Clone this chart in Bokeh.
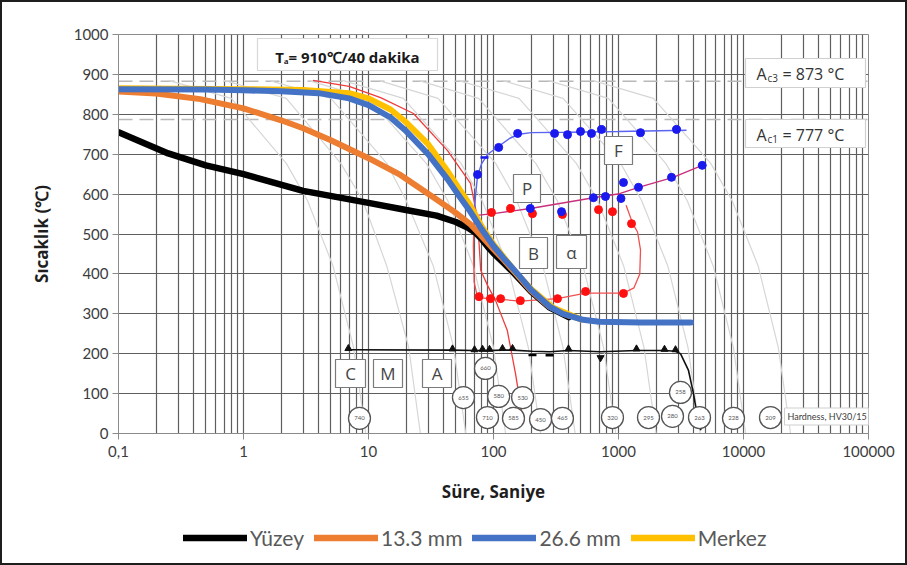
from bokeh.plotting import figure
from bokeh.layouts import column
from bokeh.models import (FixedTicker, Label, BoxAnnotation, Legend, LegendItem,
                          Span, Range1d, ColumnDataSource)
from bokeh.embed import file_html
from bokeh.resources import INLINE
from bokeh.core.properties import value

# ---------------- data ----------------
x_ticks = [0.1, 1, 10, 100, 1000, 10000, 100000]
x_tick_labels = ["0,1", "1", "10", "100", "1000", "10000", "100000"]
y_ticks = [0, 100, 200, 300, 400, 500, 600, 700, 800, 900, 1000]

series_names = ["Yüzey", "13.3 mm", "26.6 mm", "Merkez"]
series_colors = ["#000000", "#ed7d31", "#4472c4", "#ffc000"]

# cooling curves (time s, temperature C)
yuzey_t = [0.1, 0.25, 0.5, 1, 3, 10, 20, 35, 50, 62, 72, 80, 90, 100, 120, 150, 200, 280, 400]
yuzey_T = [755, 702, 672, 650, 608, 578, 560, 546, 530, 516, 503, 488, 468, 452, 428, 398, 356, 316, 292]

mm13_t = [0.1, 0.2, 0.45, 1, 2, 3, 5, 10, 18, 33, 50, 65, 80, 100, 120, 150, 200, 280, 400]
mm13_T = [857, 852, 838, 815, 785, 765, 735, 690, 648, 592, 553, 525, 495, 462, 436, 402, 358, 318, 295]

mm26_t = [0.1, 0.5, 1, 2, 4, 7, 10, 15, 20, 30, 43, 54, 65, 80, 100, 120, 156, 200, 284, 360, 520, 700, 1500, 3800]
mm26_T = [863, 862, 860, 858, 853, 840, 823, 792, 758, 700, 637, 592, 557, 513, 470, 440, 400, 360, 317, 300, 285, 280, 278, 278]

merkez_t = [0.1, 1, 3, 7, 10, 15, 20, 30, 43, 54, 65, 80, 100, 150, 200, 300, 500]
merkez_T = [865, 863, 861, 853, 840, 812, 780, 725, 657, 610, 572, 520, 474, 405, 362, 315, 286]

# original CCT overlay
red_cc_t = [3.6, 7, 12.5, 22.9, 42.9, 65.5, 74.5, 79, 90, 104, 129, 150, 174]
red_cc_T = [885, 870, 842, 802, 709, 627, 540, 409, 370, 333, 258, 150, 25]

ferrite_t = [70, 72, 74.5, 80, 90, 110, 135, 160, 200, 400, 1000, 3500]
ferrite_T = [548, 600, 645, 675, 700, 720, 740, 750, 754, 755, 757, 760]

pearlite_t = [70, 100, 197, 630, 1020, 1445, 2736, 4677]
pearlite_T = [546, 551, 564, 591, 601, 617, 642, 672]

bainite_t = [70, 69, 70, 74, 78, 95, 114, 164, 325, 545, 1096, 1330, 1480, 1500, 1420, 1300, 1150]
bainite_T = [546, 470, 380, 345, 340, 338, 336, 332, 338, 352, 352, 365, 400, 460, 505, 526, 572]

ms_t = [6.9, 47, 70, 82, 93, 118, 142, 205, 281, 398, 718, 1393, 2333, 2858, 3133, 3631, 3981, 4285, 4560]
ms_T = [210, 209, 208, 208, 208, 209, 209, 206, 205, 208, 205, 208, 208, 206, 200, 158, 100, 40, 8]

ferrite_dot_t = [74.5, 110, 156, 308, 391, 497, 608, 731, 1500, 2911]
ferrite_dot_T = [649, 717, 752, 752, 749, 757, 752, 762, 754, 762]

pearl_blue_t = [197, 350, 630, 787, 1096, 1047, 1445, 2655, 4677]
pearl_blue_T = [564, 556, 591, 594, 629, 589, 617, 642, 672]

pearl_red_t = [96.4, 137, 205, 356, 692, 895, 1271]
pearl_red_T = [554, 564, 551, 549, 561, 556, 526]

bain_red_t = [76.6, 94.6, 114, 164, 325, 545, 1096]
bain_red_T = [343, 338, 338, 333, 338, 356, 351]

tri_t = [6.9, 47, 70.5, 81.7, 92.9, 118, 142, 398, 1393, 2333, 2858]
tri_T = [213, 212, 210, 211, 211, 213, 213, 212, 212, 211, 210]
dash_t = [84.7, 205, 281]
dash_T = [692, 197, 196]
dash_col = ["#1a1aee", "black", "black"]
tridown_t = [718]
tridown_T = [190]

hv_t = [8.47, 57.5, 86.3, 89.5, 110, 144.5, 171, 238, 356, 895, 1738, 2704, 3133, 4446, 8318, 16444]
hv_T = [38, 90, 163, 40, 93, 38, 90, 35, 38, 40, 40, 43, 103, 40, 38, 40]
hv_lbl = ["740", "655", "660", "710", "580", "585", "530", "450", "465", "320", "295", "280", "258", "263", "228", "209"]

# faint background cooling curves of the original diagram
gray_T = [885, 840, 677, 584, 420, 215, 0]
gray_t = [
    [0.25, 0.8, 2.2, 3.25, 5.2, 7.6, 9.5],
    [0.7, 2.2, 6, 9, 14, 21, 26],
    [1.6, 5, 14, 20, 33, 48, 60],
    [3.3, 10, 29, 43, 69, 100, 125],
    [6.2, 19, 55, 81, 130, 190, 238],
    [12, 36, 104, 153, 248, 360, 450],
    [25, 76, 218, 323, 520, 760, 950],
    [52, 160, 460, 680, 1100, 1600, 2000],
    [117, 360, 1040, 1530, 2480, 3600, 4500],
    [270, 830, 2390, 3540, 5720, 8300, 10400],
    [620, 1900, 5470, 8090, 13100, 19000, 23800],
]

ac3_T = 883
ac1_T = 787

# ---------------- layout helpers (page pixel -> data) ----------------
FL, FT, DEC, PXT = 118, 433, 125, 0.399


def tx(px):
    return 10 ** ((px - FL) / DEC - 1)


def ty(py):
    return (FT - py) / PXT


p = figure(width=903, height=509, x_axis_type="log",
           x_range=Range1d(0.1, 100000), y_range=Range1d(0, 1000),
           output_backend="svg", toolbar_location=None,
           min_border_left=116, min_border_right=37, min_border_top=32, min_border_bottom=78,
           background_fill_color="white", border_fill_color="white")
p.outline_line_color = "#8a8a8a"

minor = []
for d in [0.1, 1, 10, 100, 1000, 10000]:
    for k in range(2, 10):
        minor.append(d * k)
p.xaxis.ticker = FixedTicker(ticks=x_ticks, minor_ticks=minor)
p.xaxis.major_label_overrides = {t: l for t, l in zip(x_ticks, x_tick_labels)}
p.yaxis.ticker = FixedTicker(ticks=y_ticks)

for ax in (p.xaxis, p.yaxis):
    ax.axis_line_color = "#8a8a8a"
    ax.major_tick_line_color = "#8a8a8a"
    ax.major_tick_out = 6
    ax.major_tick_in = 0
    ax.minor_tick_out = 0
    ax.minor_tick_in = 0
    ax.major_label_text_font = "Lato"
    ax.major_label_text_font_size = "15px"
    ax.major_label_text_color = "#3c3c3c"
    ax.axis_label_text_font = "Open Sans"
    ax.axis_label_text_font_style = "bold"
    ax.axis_label_text_font_size = "17px"
    ax.axis_label_text_color = "#1e1e1e"

p.xaxis.axis_label = "Süre, Saniye"
p.yaxis.axis_label = "Sıcaklık (℃)"
p.xaxis.major_label_standoff = 6
p.xaxis.axis_label_standoff = 20
p.yaxis.major_label_standoff = 4
p.yaxis.axis_label_standoff = 18

gc = "#5e5e5e"
p.xgrid.grid_line_color = gc
p.xgrid.minor_grid_line_color = gc
p.xgrid.grid_line_width = 1.2
p.xgrid.minor_grid_line_width = 1.2
p.ygrid.grid_line_color = gc
p.ygrid.grid_line_width = 1.2

# background curves
for gt in gray_t:
    p.line(gt, gray_T, line_color="#d6d6d6", line_width=1.2)

# Ac reference dashed lines of the original diagram
for lv in (ac3_T, ac1_T):
    p.add_layout(Span(location=lv, dimension="width", line_color="#b8b8b8",
                      line_width=1.6, line_dash="14 7", level="underlay"))

# thin CCT overlay curves
p.line(red_cc_t, red_cc_T, line_color="#f03c3c", line_width=1.3)
p.line(ferrite_t, ferrite_T, line_color="#5a64f0", line_width=1.4)
p.line(pearlite_t, pearlite_T, line_color="#c8307a", line_width=1.4)
p.line(bainite_t, bainite_T, line_color="#f05050", line_width=1.3)
p.line(ms_t, ms_T, line_color="#101010", line_width=1.6)

p.scatter(bain_red_t, bain_red_T, size=8, color="#ff1010")
p.scatter(pearl_red_t, pearl_red_T, size=8, color="#ff1010")
p.scatter(pearl_blue_t, pearl_blue_T, size=8, color="#1a1aee")
p.scatter(ferrite_dot_t, ferrite_dot_T, size=8, color="#1a1aee")
p.scatter(tri_t, tri_T, marker="triangle", size=7, color="#101010")
p.scatter(tridown_t, tridown_T, marker="inverted_triangle", size=7, color="#101010")
p.scatter(dash_t, dash_T, marker="dash", size=8, line_width=2.5, color=dash_col)

# hardness circles
hv_src = ColumnDataSource(dict(t=hv_t, T=hv_T, lbl=hv_lbl))
p.scatter("t", "T", source=hv_src, size=22, fill_color="white", line_color="#555555",
          line_width=1.3)
p.text("t", "T", text="lbl", source=hv_src, text_font=value("Lato"), text_font_size="6px",
       text_color="#555555", text_align="center", text_baseline="middle")

# main cooling curves (drawing order: surface, 13.3, centre, 26.6 on top)
p.line(yuzey_t, yuzey_T, line_color=series_colors[0], line_width=6.5, line_cap="round")
p.line(mm13_t, mm13_T, line_color=series_colors[1], line_width=6, line_cap="round")
p.line(merkez_t, merkez_T, line_color=series_colors[3], line_width=6, line_cap="round")
p.line(mm26_t, mm26_T, line_color=series_colors[2], line_width=6, line_cap="round")


# ---------------- boxes and labels ----------------
def box(l, t_, r, b, lc="#8c8c8c"):
    p.add_layout(BoxAnnotation(left=tx(l), right=tx(r), top=ty(t_), bottom=ty(b),
                               fill_color="white", fill_alpha=1, line_color=lc,
                               line_width=1.2, line_alpha=1))


def lab(px, py, text, size="16px", font="Open Sans", style="normal", color="#404040",
        align="center"):
    p.add_layout(Label(x=tx(px), y=ty(py), text=text, text_font=font,
                       text_font_size=size, text_font_style=style, text_color=color,
                       text_align=align, text_baseline="middle"))


box(257, 38, 437, 70, lc="#d8d8d8")
lab(347, 56, "Tₐ= 910℃/40 dakika", size="15px", style="bold", color="#1a1a1a")

box(745, 58, 865, 87, lc="#d0d0d0")
lab(756, 73, "A", size="16px", align="left", color="#333333")
lab(767, 77, "c3", size="10px", align="left", color="#333333")
lab(782, 73, "= 873 °C", size="16px", align="left", color="#333333")

box(745, 119, 865, 147, lc="#d0d0d0")
lab(756, 134, "A", size="16px", align="left", color="#333333")
lab(767, 138, "c1", size="10px", align="left", color="#333333")
lab(782, 134, "= 777 °C", size="16px", align="left", color="#333333")

for (l, t_, r, b, s) in [(604, 136, 632, 164, "F"), (513, 174, 540, 202, "P"),
                         (519, 237, 547, 268, "B"), (556, 235, 586, 268, "α"),
                         (335, 359, 365, 387, "C"), (373, 359, 402, 387, "M"),
                         (422, 359, 451, 387, "A")]:
    box(l, t_, r, b, lc="#7a7a7a")
    lab((l + r) / 2, (t_ + b) / 2, s, size="17px", color="#454545")

p.add_layout(Label(x=tx(784), y=ty(416), text="Hardness, HV30/15", text_font="Lato",
                   text_font_size="9px", text_color="#404040", text_baseline="middle",
                   background_fill_color="white", border_line_color="#cfcfcf",
                   padding=3))

# ---------------- legend strip ----------------
p2 = figure(width=903, height=52, output_backend="svg", toolbar_location=None,
            x_axis_location=None, y_axis_location=None, min_border=0,
            min_border_left=0, min_border_right=0, min_border_top=0, min_border_bottom=0,
            x_range=Range1d(0, 1), y_range=Range1d(0, 1),
            background_fill_color="white", border_fill_color="white")
p2.outline_line_color = None
p2.grid.visible = False
items = []
for name, col in zip(series_names, series_colors):
    # legend swatch renderer (kept outside the visible range)
    rr = p2.line([5, 6], [5, 5], line_color=col, line_width=6.5, line_cap="round")
    items.append(LegendItem(label=name, renderers=[rr]))
legend = Legend(items=items, orientation="horizontal", location="left",
                glyph_width=64, glyph_height=20, label_standoff=3, spacing=10,
                label_text_font="Lato", label_text_font_size="21px",
                label_text_color="#595959", border_line_alpha=0,
                background_fill_alpha=0, padding=2, margin=63)
p2.add_layout(legend)

page = column(p, p2, spacing=0, styles={"border": "2px solid #1e1e1e"})
open("out.html", "w").write(file_html(page, INLINE))
